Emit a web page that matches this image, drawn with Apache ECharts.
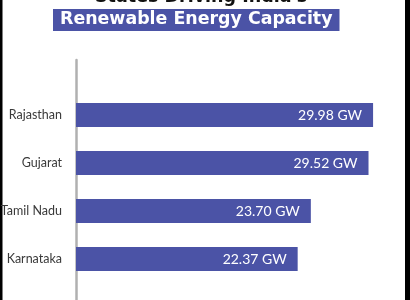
<!DOCTYPE html>
<html>
<head>
<meta charset="utf-8">
<script src="https://cdn.jsdelivr.net/npm/echarts@6/dist/echarts.min.js"></script>
<style>
html,body{margin:0;padding:0;background:#fff;}
#c{width:410px;height:300px;}
</style>
</head>
<body>
<div id="c"></div>
<script>
// Data
var categories = ['', 'Rajasthan', 'Gujarat', 'Tamil Nadu', 'Karnataka', ''];
var capacityGW = ['-', 29.98, 29.52, 23.70, 22.37, '-'];
var titleTop = "States Driving India's";
var titleMain = 'Renewable Energy Capacity';
var unit = ' GW';

var chart = echarts.init(document.getElementById('c'), null, {renderer: 'canvas'});
var blue = '#4b53a6';
chart.setOption({
  backgroundColor: '#fff',
  animation: false,
  title: [
    {
      text: titleTop,
      left: 90, top: -17,
      textStyle: {fontFamily: 'DejaVu Sans', fontWeight: 'bold', fontSize: 17.5, color: '#111'}
    },
    {
      text: titleMain,
      left: 53, top: 9,
      padding: [2, 7, 3, 7],
      backgroundColor: blue,
      textStyle: {fontFamily: 'DejaVu Sans', fontWeight: 'bold', fontSize: 17.4, color: '#fff'}
    }
  ],
  grid: [
    {left: 76, width: 327, top: 43, height: 288, outerBoundsMode: 'none', containLabel: false},
    {left: 76, width: 327, top: 60, height: 240, outerBoundsMode: 'none', containLabel: false}
  ],
  xAxis: [
    {type: 'value', min: 0, max: 33, show: false, gridIndex: 0},
    {type: 'value', min: 0, max: 1, show: false, gridIndex: 1}
  ],
  yAxis: [
    {
      type: 'category', data: categories, inverse: true, gridIndex: 0,
      axisLine: {show: false}, axisTick: {show: false},
      axisLabel: {fontFamily: 'Lato', fontSize: 12.5, color: '#3a3a3a', margin: 14}
    },
    {
      type: 'value', gridIndex: 1, min: 0, max: 1,
      axisLine: {show: true, lineStyle: {color: '#b0b0b0', width: 2.5}},
      axisTick: {show: false}, axisLabel: {show: false}, splitLine: {show: false}
    }
  ],
  series: [{
    type: 'bar',
    data: capacityGW,
    barWidth: 24,
    itemStyle: {color: blue},
    label: {
      show: true, position: 'insideRight', distance: 11,
      formatter: function (p) { return p.value.toFixed(2) + unit; },
      fontFamily: 'Lato', fontSize: 14, color: '#fff'
    }
  }],
  graphic: [
    {type: 'rect', left: 0, top: 0, shape: {width: 2.5, height: 300}, style: {fill: '#000'}},
    {type: 'rect', right: 0, top: 0, shape: {width: 5, height: 300}, style: {fill: '#000'}}
  ]
});
</script>
</body>
</html>
